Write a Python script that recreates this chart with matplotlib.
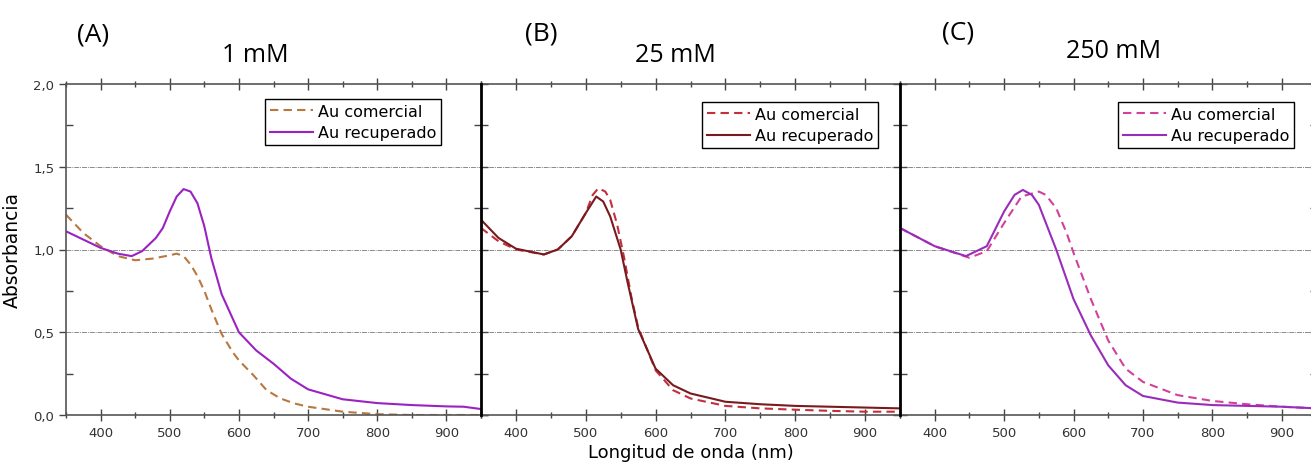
import matplotlib
matplotlib.use('Agg')
import matplotlib.pyplot as plt
from matplotlib.ticker import MultipleLocator, FuncFormatter

# panel (A) 1 mM
A_com_nm = [350, 375, 400, 425, 450, 475, 500, 510, 520, 530, 540, 550, 560, 575, 591, 600, 621, 640, 660, 680, 700, 750, 800, 850, 900, 950]
A_com = [1.21, 1.10, 1.02, 0.96, 0.935, 0.945, 0.965, 0.975, 0.96, 0.91, 0.84, 0.75, 0.64, 0.49, 0.38, 0.33, 0.24, 0.15, 0.10, 0.07, 0.05, 0.02, 0.005, 0.0, 0.0, 0.0]
A_rec_nm = [350, 375, 400, 425, 445, 460, 480, 490, 500, 510, 520, 530, 540, 550, 560, 575, 600, 625, 650, 675, 700, 750, 800, 850, 900, 925, 950]
A_rec = [1.11, 1.06, 1.01, 0.975, 0.96, 0.99, 1.07, 1.13, 1.23, 1.32, 1.365, 1.35, 1.28, 1.14, 0.95, 0.73, 0.50, 0.39, 0.31, 0.22, 0.155, 0.095, 0.072, 0.06, 0.052, 0.05, 0.036]

# panel (B) 25 mM
B_com_nm = [350, 375, 400, 440, 460, 480, 500, 510, 518, 528, 535, 545, 555, 565, 575, 600, 625, 650, 700, 750, 800, 850, 900, 950]
B_com = [1.13, 1.05, 1.0, 0.97, 1.0, 1.08, 1.22, 1.33, 1.37, 1.35, 1.30, 1.15, 0.95, 0.72, 0.53, 0.27, 0.15, 0.10, 0.055, 0.04, 0.032, 0.025, 0.02, 0.02]
B_rec_nm = [350, 375, 400, 440, 460, 480, 500, 515, 525, 535, 550, 560, 575, 600, 625, 650, 700, 750, 800, 850, 900, 950]
B_rec = [1.18, 1.07, 1.005, 0.97, 1.0, 1.08, 1.22, 1.32, 1.29, 1.20, 1.0, 0.80, 0.52, 0.28, 0.18, 0.13, 0.08, 0.065, 0.055, 0.05, 0.045, 0.04]

# panel (C) 250 mM
C_com_nm = [350, 400, 450, 475, 500, 525, 550, 560, 575, 590, 600, 625, 650, 675, 700, 750, 800, 850, 900, 950]
C_com = [1.13, 1.02, 0.95, 0.99, 1.16, 1.32, 1.35, 1.33, 1.25, 1.10, 0.98, 0.70, 0.45, 0.28, 0.20, 0.12, 0.085, 0.065, 0.05, 0.04]
C_rec_nm = [350, 400, 445, 475, 500, 515, 527, 540, 550, 575, 600, 625, 650, 675, 700, 750, 800, 850, 900, 950]
C_rec = [1.13, 1.02, 0.96, 1.02, 1.23, 1.33, 1.36, 1.33, 1.27, 1.0, 0.70, 0.48, 0.30, 0.18, 0.115, 0.075, 0.06, 0.055, 0.05, 0.04]

panels = ['(A)', '(B)', '(C)']
titles = ['1 mM', '25 mM', '250 mM']
leg_labels = ['Au comercial', 'Au recuperado']

data = [(A_com_nm, A_com, A_rec_nm, A_rec),
        (B_com_nm, B_com, B_rec_nm, B_rec),
        (C_com_nm, C_com, C_rec_nm, C_rec)]
colors = [('#b8783f', '#9b22c2'),
          ('#c32f3c', '#781a1e'),
          ('#d2409c', '#9a2cbc')]

W, H = 1311, 464
fig = plt.figure(figsize=(W/100, H/100), dpi=100)

# axes boxes in pixels: left, right
boxes = [(66, 481), (481, 900), (900, 1316.5)]
top_px, bot_px = 85, 416
leg_off = [(40, 15), (22, 18), (22.5, 18)]
lab_pos = [(93, 35), (541, 34), (958, 33)]
tit_pos = [(255, 55), (675, 55), (1114, 52)]

comma = FuncFormatter(lambda v, p: ('%.1f' % v).replace('.', ','))

for i in range(3):
    l, r = boxes[i]
    ax = fig.add_axes([l/W, 1-bot_px/H, (r-l)/W, (bot_px-top_px)/H])
    xc, yc, xr, yr = data[i]
    ax.plot(xc, yc, ls=(0, (4, 2.5)), color=colors[i][0], lw=1.5, label=leg_labels[0])
    ax.plot(xr, yr, ls='-', color=colors[i][1], lw=1.5, label=leg_labels[1])
    ax.set_xlim(350, 950)
    ax.set_ylim(0, 2.0)
    for yy in [0.5, 1.0, 1.5]:
        ax.axhline(yy, color='#8a8a8a', lw=0.7, ls=(0, (5, 1, 1, 1)), zorder=0)

    ax.xaxis.set_major_locator(MultipleLocator(100))
    ax.xaxis.set_minor_locator(MultipleLocator(50))
    ax.yaxis.set_major_locator(MultipleLocator(0.5))
    ax.yaxis.set_minor_locator(MultipleLocator(0.25))
    ax.yaxis.set_major_formatter(comma)
    ax.tick_params(axis='x', which='major', direction='inout', length=9, width=1,
                   top=True, labelsize=9.5, labelcolor='#333333', color='#444444')
    ax.tick_params(axis='x', which='minor', direction='inout', length=5, width=1,
                   top=True, color='#444444')
    ax.tick_params(axis='y', which='both', direction='in', length=5, width=1,
                   right=True, color='#444444')
    if i == 0:
        ax.tick_params(axis='y', which='major', direction='out', length=5,
                       labelsize=9.5, labelcolor='#333333')
        ax.set_ylabel('Absorbancia', fontsize=13.5, labelpad=8)
    else:
        ax.tick_params(axis='y', labelleft=False)
        ax.spines['left'].set_color('black')
        ax.spines['left'].set_linewidth(2)
        ax.spines['left'].set_zorder(5)
    for s in ['top', 'bottom']:
        ax.spines[s].set_color('#555555')
        ax.spines[s].set_linewidth(1.2)
    ax.spines['right'].set_color('#555555')
    if i == 0:
        ax.spines['left'].set_color('#555555')
        ax.spines['left'].set_linewidth(1.2)
    if i == 1:
        ax.set_xlabel('Longitud de onda (nm)', fontsize=13, labelpad=3)

    dx, dy = leg_off[i]
    leg = ax.legend(loc='upper right', bbox_to_anchor=(1-dx/(r-l), 1-dy/(bot_px-top_px)),
                    borderaxespad=0, fancybox=False, framealpha=1, edgecolor='black',
                    fontsize=11.5, handlelength=2.7, handletextpad=0.3,
                    borderpad=0.3, labelspacing=0.4)
    leg.get_frame().set_linewidth(1.0)

    # panel letter and concentration
    fig.text(lab_pos[i][0]/W, 1-lab_pos[i][1]/H, panels[i], fontsize=19,
             family='Open Sans', ha='center', va='center')
    fig.text(tit_pos[i][0]/W, 1-tit_pos[i][1]/H, titles[i], fontsize=18,
             family='Open Sans', ha='center', va='center')

fig.savefig('out.png', dpi=100)
